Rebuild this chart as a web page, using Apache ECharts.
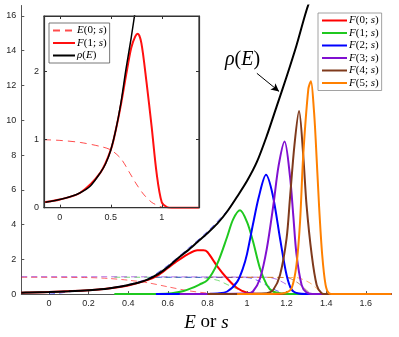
<!DOCTYPE html>
<html>
<head>
<meta charset="utf-8">
<title>F(k;s)</title>
<script src="https://cdn.jsdelivr.net/npm/echarts@6/dist/echarts.min.js"></script>
<style>
  html, body { margin: 0; padding: 0; background: #fff; }
  #chart { width: 399px; height: 337px; }
</style>
</head>
<body>
<div id="chart"></div>
<script>
// ---- data ----
// density of states rho(E), black
var rhoS = [-0.14, -0.1, 0, 0.1, 0.2, 0.3, 0.4, 0.45, 0.5, 0.55, 0.6, 0.65, 0.7, 0.75, 0.8, 0.85, 0.9, 0.95, 1.0, 1.05, 1.1, 1.15, 1.2, 1.25, 1.3, 1.34];
var rhoV = [0.08, 0.09, 0.12, 0.16, 0.22, 0.32, 0.52, 0.65, 0.85, 1.15, 1.55, 2.05, 2.5, 3.0, 3.5, 4.05, 4.75, 5.6, 6.5, 7.6, 9.1, 10.8, 12.5, 14.3, 16.3, 17.6];
// blue dashed curve lying along rho
var fitS = [0, 0.05, 0.1, 0.2, 0.3, 0.4, 0.5, 0.6, 0.7, 0.8, 0.9, 0.95];
var fitV = [0, 0.05, 0.13, 0.22, 0.34, 0.55, 0.9, 1.65, 2.6, 3.6, 4.8, 5.6];

// F(k;s), solid
var f0S = [-0.14, 0, 0.2, 0.3, 0.4, 0.5, 0.55, 0.6, 0.65, 0.7, 0.75, 0.78, 0.8, 0.85, 0.9, 0.95, 1.0, 1.05, 1.1, 1.73];
var f0V = [0.08, 0.12, 0.22, 0.32, 0.5, 0.82, 1.08, 1.5, 1.92, 2.28, 2.52, 2.52, 2.42, 1.6, 0.9, 0.35, 0.08, 0.02, 0, 0];
var f1S = [0.33, 0.55, 0.62, 0.68, 0.72, 0.76, 0.8, 0.85, 0.9, 0.93, 0.965, 1.0, 1.03, 1.065, 1.1, 1.13, 1.18, 1.25, 1.73];
var f1V = [0, 0.01, 0.05, 0.18, 0.34, 0.55, 0.8, 1.75, 3.3, 4.3, 4.82, 4.15, 3.05, 1.5, 0.53, 0.15, 0.03, 0, 0];
var f2S = [0.54, 0.8, 0.85, 0.9, 0.95, 0.98, 1.0, 1.03, 1.06, 1.096, 1.13, 1.167, 1.2, 1.226, 1.26, 1.3, 1.73];
var f2V = [0, 0.01, 0.04, 0.15, 0.7, 1.5, 2.3, 4.0, 5.6, 6.86, 5.7, 3.2, 1.1, 0.25, 0.03, 0, 0];
var f3S = [0.66, 1.0, 1.03, 1.066, 1.1, 1.133, 1.16, 1.19, 1.217, 1.234, 1.25, 1.276, 1.3, 1.33, 1.73];
var f3V = [0, 0.03, 0.15, 0.9, 2.6, 5.1, 7.4, 8.78, 6.8, 4.5, 2.3, 0.53, 0.1, 0, 0];
var f4S = [0.8, 1.1, 1.133, 1.167, 1.2, 1.217, 1.24, 1.263, 1.284, 1.301, 1.327, 1.352, 1.377, 1.4, 1.73];
var f4V = [0, 0.05, 0.25, 1.1, 3.2, 5.5, 8.6, 10.53, 8.0, 5.1, 2.25, 0.53, 0.05, 0, 0];
var f5S = [0.95, 1.15, 1.2, 1.226, 1.25, 1.268, 1.284, 1.31, 1.323, 1.338, 1.347, 1.364, 1.38, 1.397, 1.414, 1.44, 1.73];
var f5V = [0, 0.02, 0.1, 0.35, 1.68, 4.15, 7.96, 11.8, 12.25, 10.6, 8.9, 5.1, 2.25, 0.53, 0.05, 0, 0];

// E(k;s), thin dashed
var e0S = [-0.14, 0.2, 0.3, 0.4, 0.5, 0.6, 0.7, 0.8, 0.9, 1.0];
var e0V = [0.97, 0.95, 0.9, 0.8, 0.65, 0.42, 0.2, 0.06, 0.01, 0];
var e1S = [0.33, 0.75, 0.85, 0.9, 0.95, 1.0, 1.05, 1.1];
var e1V = [0.97, 0.96, 0.8, 0.55, 0.3, 0.12, 0.03, 0];
var e2S = [0.54, 1.0, 1.05, 1.1, 1.15, 1.2, 1.25];
var e2V = [0.97, 0.95, 0.8, 0.5, 0.2, 0.04, 0];
var e3S = [-0.14, 1.1, 1.15, 1.2, 1.25, 1.3];
var e3V = [1.0, 0.97, 0.85, 0.55, 0.1, 0];
var e4S = [0.8, 1.2, 1.25, 1.28, 1.32, 1.35];
var e4V = [0.97, 0.95, 0.7, 0.44, 0.05, 0];
var e5S = [0.95, 1.25, 1.3, 1.33, 1.38, 1.4];
var e5V = [0.97, 0.95, 0.75, 0.55, 0.05, 0];

// inset
var insES = [-0.155, 0, 0.2, 0.4, 0.5, 0.6, 0.69, 0.75, 0.82, 0.9, 0.95, 1.0, 1.05];
var insEV = [1.0, 0.99, 0.96, 0.9, 0.85, 0.72, 0.5, 0.35, 0.2, 0.08, 0.04, 0.01, 0];
var insFS = [-0.155, 0, 0.2, 0.4, 0.5, 0.55, 0.6, 0.65, 0.7, 0.74, 0.765, 0.8, 0.85, 0.9, 0.95, 1.0, 1.05, 1.1, 1.365];
var insFV = [0.08, 0.12, 0.22, 0.52, 0.85, 1.15, 1.52, 1.95, 2.35, 2.52, 2.56, 2.42, 1.85, 1.2, 0.5, 0.08, 0.01, 0, 0];

// ticks
var mainXTicks = [0, 0.2, 0.4, 0.6, 0.8, 1, 1.2, 1.4, 1.6];
var mainYTicks = [0, 2, 4, 6, 8, 10, 12, 14, 16];
var insXTicks = [0, 0.5, 1];
var insYTicks = [0, 1, 2];

var mainNames = ['F(0; s)', 'F(1; s)', 'F(2; s)', 'F(3; s)', 'F(4; s)', 'F(5; s)'];
// inset names use a no-break space so they stay apart from the main legend
var insNames = ['E(0;\u00a0s)', 'F(1;\u00a0s)', 'ρ(E)'];
var colors = ['#ff0000', '#1fc81f', '#0000ff', '#8010d0', '#7f3a1c', '#ff8000'];

function zip(xs, ys) {
    return xs.map(function (x, i) { return [x, ys[i]]; });
}

var serif = 'Liberation Serif';
var sans = 'Liberation Sans';
var ital = { fontStyle: 'italic', fontFamily: serif, fontSize: 11, color: '#000' };

function legendText(name) {
    return name.replace(/([A-Za-zρ])/g, '{i|$1}');
}

function solid(name, s, v, color, width, x, y) {
    return {
        name: name, type: 'line', xAxisIndex: x || 0, yAxisIndex: y || 0,
        data: zip(s, v), symbol: 'none', smooth: 0.3,
        lineStyle: { color: color, width: width || 2 }, itemStyle: { color: color },
        silent: true, animation: false
    };
}
function dashed(name, s, v, color, x, y) {
    var sr = solid(name, s, v, color, 1, x, y);
    sr.lineStyle.type = [6, 4];
    sr.lineStyle.opacity = 0.6;
    return sr;
}

var series = [
    dashed('e0', e0S, e0V, colors[0]),
    dashed('e1', e1S, e1V, colors[1]),
    dashed('e2', e2S, e2V, colors[2]),
    dashed('e3', e3S, e3V, colors[3]),
    dashed('e4', e4S, e4V, colors[4]),
    dashed('e5', e5S, e5V, colors[5]),
    dashed('fit', fitS, fitV, colors[2]),
    solid(mainNames[0], f0S, f0V, colors[0]),
    solid(mainNames[1], f1S, f1V, colors[1]),
    solid(mainNames[2], f2S, f2V, colors[2]),
    solid(mainNames[3], f3S, f3V, colors[3]),
    solid(mainNames[4], f4S, f4V, colors[4]),
    solid(mainNames[5], f5S, f5V, colors[5])
];
var rho = solid('rho', rhoS, rhoV, '#000', 2);
rho.markLine = {
    silent: true, animation: false,
    symbol: ['none', 'arrow'], symbolSize: [6, 8],
    lineStyle: { color: '#000', width: 1, type: 'solid' },
    label: { show: false },
    data: [[{ coord: [1.05, 12.7] }, { coord: [1.162, 11.66] }]]
};
series.push(rho);

// inset series
var insE = dashed(insNames[0], insES, insEV, '#ff0000', 1, 1);
insE.lineStyle.type = [7, 5];
insE.lineStyle.opacity = 0.7;
series.push(insE);
series.push(solid(insNames[1], insFS, insFV, '#ff1010', 2, 1, 1));
series.push(solid(insNames[2], rhoS, rhoV, '#000', 1.5, 1, 1));

var axisGray = '#555';
var labelStyle = { color: '#262626', fontSize: 9, fontFamily: sans };
var legendBase = {
    orient: 'vertical', itemHeight: 8, itemGap: 1.5,
    padding: [2, 3, 2, 3], backgroundColor: '#fff', borderWidth: 0.8,
    selectedMode: false, formatter: legendText,
    itemStyle: { opacity: 0, borderWidth: 0 },
    textStyle: { fontFamily: serif, fontSize: 11, color: '#000', padding: [0, 0, 0, -3], rich: { i: ital } }
};

var option = {
    backgroundColor: '#fff',
    animation: false,
    grid: [
        { left: 21.3, right: 7.5, top: 5.5, bottom: 41 },
        { left: 44, top: 16, width: 155, height: 191.7, show: true, backgroundColor: '#fff', borderColor: '#333', borderWidth: 1.2, z: 3 }
    ],
    xAxis: [
        {
            type: 'value', gridIndex: 0, min: -0.14, max: 1.73,
            axisLine: { show: true, onZero: false, lineStyle: { color: axisGray, width: 1 } },
            axisTick: { show: true, inside: true, length: 3, customValues: mainXTicks, lineStyle: { color: axisGray } },
            axisLabel: Object.assign({ customValues: mainXTicks, margin: 5 }, labelStyle),
            splitLine: { show: false },
            name: '{i|E} or {i|s}', nameLocation: 'middle', nameGap: 15,
            nameTextStyle: {
                fontFamily: serif, fontSize: 19, color: '#000',
                rich: { i: { fontStyle: 'italic', fontFamily: serif, fontSize: 19, color: '#000' } }
            }
        },
        {
            type: 'value', gridIndex: 1, min: -0.155, max: 1.365,
            axisLine: { show: true, onZero: false, lineStyle: { color: '#333', width: 1.2 } },
            axisTick: { show: true, inside: true, length: 3, customValues: insXTicks, lineStyle: { color: '#333' } },
            axisLabel: Object.assign({ customValues: insXTicks, margin: 5 }, labelStyle),
            splitLine: { show: false }, z: 4
        },
        {
            type: 'value', gridIndex: 1, position: 'top', min: -0.155, max: 1.365,
            axisLine: { show: true, onZero: false, lineStyle: { color: '#333', width: 1.2 } },
            axisTick: { show: true, inside: true, length: 3, customValues: insXTicks, lineStyle: { color: '#333' } },
            axisLabel: { show: false }, splitLine: { show: false }, z: 4
        }
    ],
    yAxis: [
        {
            type: 'value', gridIndex: 0, min: 0, max: 16.6,
            axisLine: { show: true, onZero: false, lineStyle: { color: axisGray, width: 1 } },
            axisTick: { show: true, inside: true, length: 3, customValues: mainYTicks, lineStyle: { color: axisGray } },
            axisLabel: Object.assign({ customValues: mainYTicks, margin: 5 }, labelStyle),
            splitLine: { show: false }
        },
        {
            type: 'value', gridIndex: 1, min: 0, max: 2.82,
            axisLine: { show: true, onZero: false, lineStyle: { color: '#333', width: 1.2 } },
            axisTick: { show: true, inside: true, length: 3, customValues: insYTicks, lineStyle: { color: '#333' } },
            axisLabel: Object.assign({ customValues: insYTicks, margin: 5 }, labelStyle),
            splitLine: { show: false }, z: 4
        },
        {
            type: 'value', gridIndex: 1, position: 'right', min: 0, max: 2.82,
            axisLine: { show: true, onZero: false, lineStyle: { color: '#333', width: 1.2 } },
            axisTick: { show: true, inside: true, length: 3, customValues: insYTicks, lineStyle: { color: '#333' } },
            axisLabel: { show: false }, splitLine: { show: false }, z: 4
        }
    ],
    legend: [
        Object.assign({}, legendBase, {
            data: mainNames, left: 318, top: 13, itemWidth: 25, borderColor: '#8a8a8a'
        }),
        Object.assign({}, legendBase, {
            data: insNames, left: 49, top: 23, itemWidth: 22, borderColor: '#555', z: 6
        })
    ],
    graphic: [
        {
            type: 'text', left: 225, top: 50, z: 10,
            style: {
                text: '{i|ρ}({i|E})', fill: '#000',
                font: '20px "Liberation Serif"',
                rich: { i: { fontStyle: 'italic', fontFamily: serif, fontSize: 20 } }
            }
        }
    ],
    series: series
};

var myChart = echarts.init(document.getElementById('chart'));
myChart.setOption(option);
</script>
</body>
</html>
